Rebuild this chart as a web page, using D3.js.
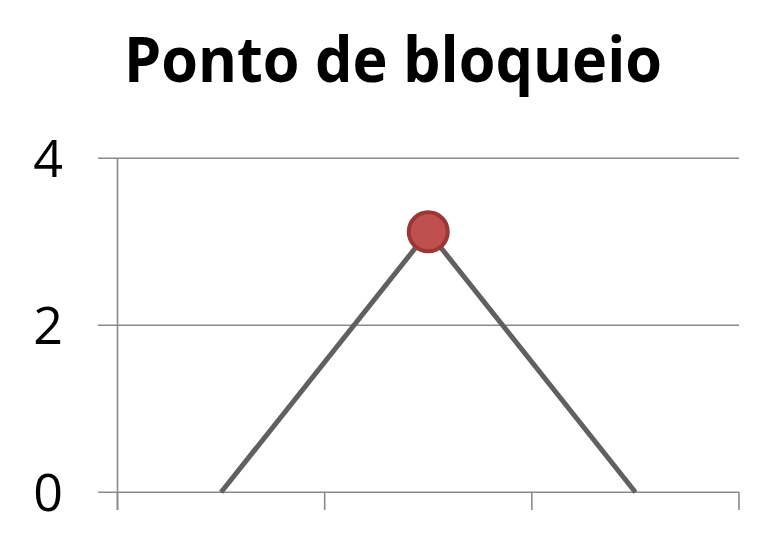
<!DOCTYPE html>
<html><head><meta charset="utf-8">
<script src="https://cdn.jsdelivr.net/npm/d3@7"></script>
<style>body{margin:0;background:#fff}svg{display:block}</style>
</head><body>
<svg id="c" width="778" height="549"></svg>
<script>
const title = "Ponto de bloqueio";
const categories = ["A", "B", "C"];
const values = [0, 3.12, 0];
const markerShown = [false, true, false];
const yTicks = [0, 2, 4];

(function () {
const svg = d3.select("#c");
const pLeft = 117.5, pRight = 739, pTop = 158.3, pBottom = 492.3;
const x = d3.scaleBand().domain(categories).range([pLeft, pRight]);
const y = d3.scaleLinear().domain([0, 4]).range([pBottom, pTop]);

svg.append("text").attr("x", 393).attr("y", 82).attr("text-anchor", "middle")
  .attr("font-family", "'Open Sans', sans-serif").attr("font-weight", "bold")
  .attr("font-size", 63).attr("textLength", 538).attr("lengthAdjust", "spacingAndGlyphs")
  .text(title);

// gridlines
svg.append("g").selectAll("line").data(yTicks).join("line")
  .attr("x1", 98).attr("x2", pRight).attr("y1", d => y(d)).attr("y2", d => y(d))
  .attr("stroke", "#8a8a8a").attr("stroke-width", 1.6);

// y axis line
svg.append("line").attr("x1", pLeft).attr("x2", pLeft).attr("y1", pTop).attr("y2", 510)
  .attr("stroke", "#8a8a8a").attr("stroke-width", 1.6);

// x ticks at category boundaries
const bounds = categories.map(c => x(c)).concat([x(categories[categories.length - 1]) + x.bandwidth()]);
svg.append("g").selectAll("line").data(bounds).join("line")
  .attr("x1", d => d).attr("x2", d => d).attr("y1", pBottom).attr("y2", 510)
  .attr("stroke", "#8a8a8a").attr("stroke-width", 1.6);

// y labels
svg.append("g").selectAll("text").data(yTicks).join("text")
  .attr("x", 63).attr("y", d => y(d)).attr("dy", "0.36em").attr("text-anchor", "end")
  .attr("font-family", "'Open Sans', sans-serif").attr("font-size", 52).attr("fill", "#000")
  .text(d => d);

const cx = c => x(c) + x.bandwidth() / 2;
const line = d3.line().x((d, i) => cx(categories[i])).y(d => y(d));
svg.append("path").datum(values).attr("d", line).attr("fill", "none")
  .attr("stroke", "#606060").attr("stroke-width", 5);

svg.append("g").selectAll("circle").data(values.map((v, i) => ({v, i})).filter(d => markerShown[d.i]))
  .join("circle").attr("cx", d => cx(categories[d.i])).attr("cy", d => y(d.v)).attr("r", 19.5)
  .attr("fill", "#c0504d").attr("stroke", "#9a3836").attr("stroke-width", 4);
})();
</script>
</body></html>
